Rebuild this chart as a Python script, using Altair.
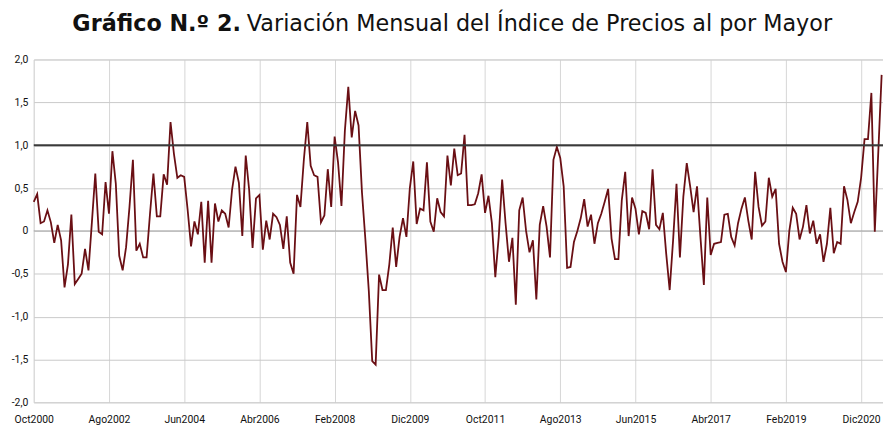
import altair as alt
import pandas as pd

# Monthly variation of the wholesale price index, Oct 2000 .. Jun 2021
values = [
    0.34, 0.43, 0.09, 0.11, 0.24, 0.10, -0.14, 0.07, -0.11, -0.66,
    -0.39, 0.19, -0.62, -0.56, -0.50, -0.21, -0.46, 0.10, 0.67, -0.01,
    -0.04, 0.57, 0.20, 0.93, 0.55, -0.29, -0.46, -0.19, 0.28, 0.83,
    -0.23, -0.15, -0.31, -0.31, 0.20, 0.67, 0.17, 0.17, 0.66, 0.54,
    1.27, 0.90, 0.62, 0.65, 0.63, 0.25, -0.18, 0.11, -0.04, 0.34,
    -0.37, 0.35, -0.37, 0.32, 0.11, 0.24, 0.20, 0.04, 0.48, 0.75,
    0.56, -0.06, 0.88, 0.48, -0.20, 0.38, 0.42, -0.22, 0.12, -0.10,
    0.20, 0.16, 0.07, -0.21, 0.17, -0.37, -0.50, 0.42, 0.28, 0.83,
    1.27, 0.76, 0.65, 0.63, 0.10, 0.18, 0.72, 0.28, 1.10, 0.80,
    0.29, 1.17, 1.68, 1.09, 1.40, 1.23, 0.45, -0.10, -0.70, -1.52,
    -1.56, -0.51, -0.69, -0.69, -0.39, 0.04, -0.42, -0.07, 0.15, -0.07,
    0.50, 0.81, 0.08, 0.26, 0.24, 0.80, 0.11, -0.01, 0.38, 0.22,
    0.17, 0.88, 0.53, 0.96, 0.65, 0.67, 1.12, 0.30, 0.30, 0.31,
    0.44, 0.66, 0.21, 0.41, 0.09, -0.54, -0.07, 0.60, 0.09, -0.36,
    -0.08, -0.86, 0.24, 0.39, 0.00, -0.25, -0.11, -0.80, 0.07, 0.29,
    0.05, -0.31, 0.83, 0.98, 0.85, 0.52, -0.43, -0.42, -0.13, 0.00,
    0.15, 0.37, 0.05, 0.19, -0.15, 0.09, 0.20, 0.34, 0.49, -0.09,
    -0.33, -0.33, 0.36, 0.69, -0.06, 0.39, 0.26, -0.04, 0.23, 0.21,
    0.02, 0.72, 0.07, 0.02, 0.21, -0.27, -0.69, -0.11, 0.55, -0.31,
    0.40, 0.79, 0.52, 0.22, 0.52, -0.07, -0.63, 0.39, -0.28, -0.15,
    -0.14, -0.13, 0.19, 0.20, -0.07, -0.17, 0.09, 0.26, 0.39, 0.12,
    -0.10, 0.69, 0.28, 0.06, 0.11, 0.62, 0.40, 0.49, -0.15, -0.36,
    -0.48, 0.00, 0.27, 0.20, -0.10, 0.05, 0.30, -0.03, 0.12, -0.15,
    -0.04, -0.36, -0.15, 0.27, -0.26, -0.13, -0.15, 0.52, 0.36, 0.09,
    0.22, 0.34, 0.62, 1.07, 1.07, 1.61, -0.01, 0.90, 1.82,
]

tick_labels = ["Oct2000", "Ago2002", "Jun2004", "Abr2006", "Feb2008", "Dic2009",
               "Oct2011", "Ago2013", "Jun2015", "Abr2017", "Feb2019", "Dic2020"]
tick_step = 22  # months between labels
y_ticks = [-2.0, -1.5, -1.0, -0.5, 0.0, 0.5, 1.0, 1.5, 2.0]
ref_value = [1.0]

title_bold = "Gráfico N.º 2."
title_rest = "Variación Mensual del Índice de Precios al por Mayor"

df = pd.DataFrame({"mes": list(range(len(values))), "variacion": values})
tick_pos = [i * tick_step for i in range(len(tick_labels))]
label_arr = "[" + ",".join("'" + t + "'" for t in tick_labels) + "]"

axis_font = "Roboto, sans-serif"

x_enc = alt.X(
    "mes:Q",
    scale=alt.Scale(domain=[0, 248.4], nice=False, zero=False),
    axis=alt.Axis(
        values=tick_pos,
        labelExpr=label_arr + f"[round(datum.value/{tick_step})]",
        grid=True, gridColor="#d6d6d6", gridWidth=1,
        domain=False, ticks=False, title=None,
        labelFont=axis_font, labelFontSize=10.5, labelColor="#111111",
        labelPadding=12, labelAngle=0, labelOverlap=False, labelFlush=False,
    ),
)
y_enc = alt.Y(
    "variacion:Q",
    scale=alt.Scale(domain=[-2, 2], nice=False, zero=False),
    axis=alt.Axis(
        values=y_ticks,
        labelExpr="datum.value == 0 ? '0' : (datum.value < 0 ? '-' : '') + replace(format(abs(datum.value), '.1f'), '.', ',')",
        grid=True, gridColor="#c9c9c9", gridWidth=1,
        domain=False, ticks=False, title=None,
        labelFont=axis_font, labelFontSize=10.5, labelColor="#111111",
        labelPadding=6,
    ),
)

line = alt.Chart(df).mark_line(color="#6a0f14", strokeWidth=1.8).encode(x=x_enc, y=y_enc)

zero_rule = alt.Chart(pd.DataFrame({"y": [0.0]})).mark_rule(
    color="#a8a8a8", strokeWidth=1
).encode(y="y:Q")

ref_rule = alt.Chart(pd.DataFrame({"y": ref_value})).mark_rule(
    color="#3a3a3a", strokeWidth=2
).encode(y="y:Q")

tdf = pd.DataFrame({"a": [title_bold], "b": [title_rest]})
t_bold = alt.Chart(tdf).mark_text(
    font="DejaVu Sans", fontSize=22.5, fontWeight="bold", align="right",
    baseline="middle", color="#111111"
).encode(text="a:N", x=alt.value(209), y=alt.value(-36))
t_rest = alt.Chart(tdf).mark_text(
    font="DejaVu Sans", fontSize=22.5, fontWeight="normal", align="left",
    baseline="middle", color="#111111"
).encode(text="b:N", x=alt.value(215), y=alt.value(-36))

chart = alt.layer(zero_rule, line, ref_rule, t_bold, t_rest).properties(
    width=857, height=346,
    autosize=alt.AutoSizeParams(type="none"),
    padding={"left": 26, "top": 50, "right": 0, "bottom": 30},
).configure_view(stroke=None).configure(background="white")

chart.save("out.html", embed_options={"renderer": "svg", "actions": False})
